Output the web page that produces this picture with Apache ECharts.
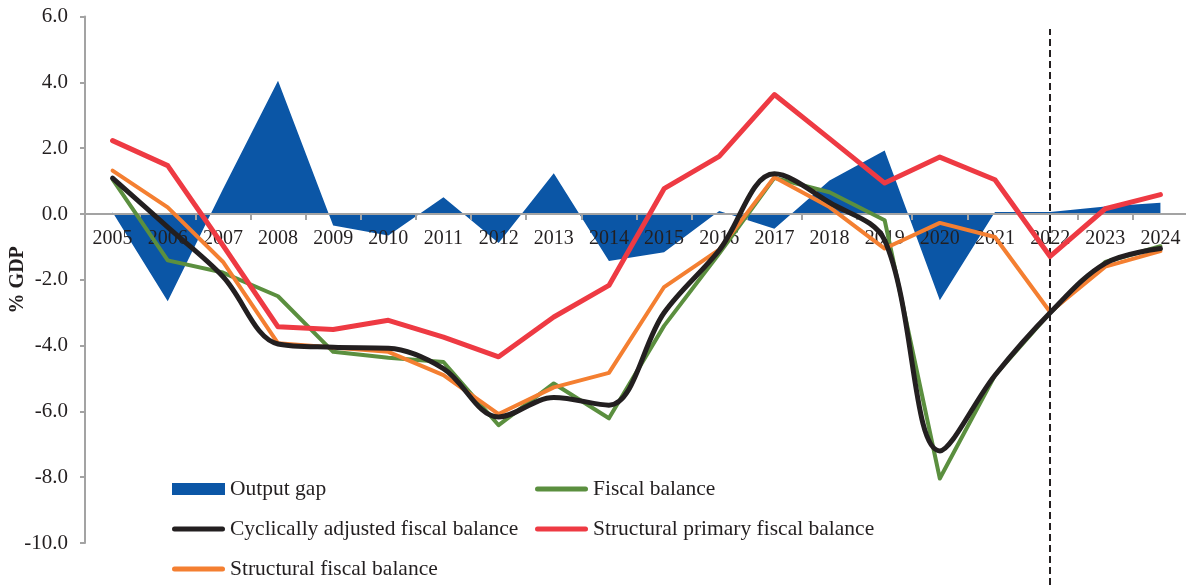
<!DOCTYPE html>
<html>
<head>
<meta charset="utf-8">
<script src="https://cdn.jsdelivr.net/npm/echarts@6/dist/echarts.min.js"></script>
<style>
  html, body { margin: 0; padding: 0; background: #ffffff; }
  #chart { width: 1186px; height: 585px; }
</style>
</head>
<body>
<div id="chart"></div>
<script>
// Years on the horizontal axis
const years = ['2005','2006','2007','2008','2009','2010','2011','2012','2013','2014',
               '2015','2016','2017','2018','2019','2020','2021','2022','2023','2024'];

// Series values, % of GDP
const outputGap = [0.05, -2.65, 0.75, 4.05, -0.35, -0.65, 0.51, -0.88, 1.24, -1.43,
                   -1.16, 0.09, -0.45, 1.02, 1.93, -2.62, 0.06, 0.06, 0.23, 0.34];
const fiscalBalance = [1.05, -1.41, -1.78, -2.5, -4.19, -4.37, -4.5, -6.42, -5.15, -6.21,
                       -3.4, -1.2, 1.1, 0.66, -0.19, -8.04, -4.9, -3.0, -1.46, -0.98];
const cyclicallyAdjusted = [1.09, -0.4, -1.9, -3.95, -4.05, -4.08, -4.7, -6.17, -5.58, -5.81,
                            -3.0, -1.1, 1.22, 0.35, -0.8, -7.2, -4.9, -3.0, -1.5, -1.05];
const structuralPrimary = [2.23, 1.47, -0.95, -3.43, -3.51, -3.23, -3.74, -4.34, -3.13, -2.17,
                           0.77, 1.75, 3.63, 2.29, 0.94, 1.73, 1.04, -1.29, 0.16, 0.59];
const structuralBalance = [1.32, 0.2, -1.45, -3.93, -4.06, -4.19, -4.9, -6.08, -5.27, -4.83,
                           -2.22, -1.08, 1.12, 0.21, -1.05, -0.27, -0.7, -2.98, -1.6, -1.13];

// Vertical axis ticks
const yMin = -10, yMax = 6, yStep = 2;
// First forecast year, marked by a dashed divider
const forecastYear = '2022';

const TEXT = '#231f20';
const AXIS = '#a3a3a3';
const FONT = '"Liberation Serif", "Times New Roman", serif';

// Plot area
const GRID_LEFT = 85, GRID_TOP = 16.6, GRID_WIDTH = 1103, GRID_BOTTOM = 42;
const CHART_H = 585;
const gridHeight = CHART_H - GRID_TOP - GRID_BOTTOM;
// Category axis sits on the zero line, with its labels just below it
const zeroOffset = -((0 - yMin) / (yMax - yMin)) * gridHeight;

// Rounded bar used as the legend swatch of the line series
const LINE_ICON = 'path://M0,2.5A2.5,2.5,0,0,1,2.5,0L50.5,0A2.5,2.5,0,0,1,53,2.5A2.5,2.5,0,0,1,50.5,5L2.5,5A2.5,2.5,0,0,1,0,2.5Z';

const chart = echarts.init(document.getElementById('chart'), null, { renderer: 'canvas' });

function lineSeries(name, data, color, width, z, smooth) {
  return {
    name: name,
    type: 'line',
    data: data,
    symbol: 'none',
    showSymbol: false,
    smooth: smooth || false,
    z: z,
    itemStyle: { color: color },
    lineStyle: { color: color, width: width, cap: 'round', join: 'round' }
  };
}

const legendCommon = {
  top: 478, height: 200, orient: 'vertical', padding: 0,
  itemWidth: 53, itemHeight: 12, itemGap: 18,
  itemStyle: { borderWidth: 0 },
  textStyle: { fontFamily: FONT, fontSize: 21.5, color: TEXT, lineHeight: 22 }
};

chart.setOption({
  animation: false,
  backgroundColor: '#ffffff',
  textStyle: { fontFamily: FONT, color: TEXT },
  grid: [
    { left: GRID_LEFT, top: GRID_TOP, width: GRID_WIDTH, bottom: GRID_BOTTOM,
      containLabel: false, outerBoundsMode: 'none' },
    // Taller frame that carries only the forecast divider
    { left: GRID_LEFT, top: 29, width: GRID_WIDTH, bottom: 0,
      containLabel: false, outerBoundsMode: 'none' }
  ],
  legend: [
    Object.assign({}, legendCommon, {
      left: 172,
      data: [
        { name: 'Output gap', icon: 'rect' },
        { name: 'Cyclically adjusted fiscal balance', icon: LINE_ICON },
        { name: 'Structural fiscal balance', icon: LINE_ICON }
      ]
    }),
    Object.assign({}, legendCommon, {
      left: 535,
      data: [
        { name: 'Fiscal balance', icon: LINE_ICON },
        { name: 'Structural primary fiscal balance', icon: LINE_ICON }
      ]
    })
  ],
  xAxis: [
    {
      type: 'category',
      gridIndex: 0,
      z: 1,
      data: years,
      boundaryGap: true,
      position: 'bottom',
      offset: zeroOffset,
      axisLine: { onZero: false, lineStyle: { color: AXIS, width: 2 } },
      axisTick: { show: true, length: 6, lineStyle: { color: AXIS, width: 2 } },
      axisLabel: { fontFamily: FONT, fontSize: 20, color: TEXT, margin: 15, interval: 0 }
    },
    {
      type: 'category',
      gridIndex: 1,
      data: years,
      boundaryGap: true,
      show: false
    }
  ],
  yAxis: [
    {
      type: 'value',
      gridIndex: 0,
      z: 1,
      min: yMin, max: yMax, interval: yStep,
      name: '% GDP',
      nameLocation: 'middle',
      nameGap: 57,
      nameMoveOverlap: false,
      nameTextStyle: { fontFamily: FONT, fontSize: 20, fontWeight: 'bold', color: TEXT },
      axisLine: { show: true, lineStyle: { color: AXIS, width: 2 } },
      axisTick: { show: true, length: 5, lineStyle: { color: AXIS, width: 2 } },
      axisLabel: {
        fontFamily: FONT, fontSize: 21, color: TEXT, margin: 17,
        formatter: function (v) { return v.toFixed(1); }
      },
      splitLine: { show: false }
    },
    {
      type: 'value',
      gridIndex: 1,
      min: 0, max: 1,
      show: false
    }
  ],
  series: [
    {
      name: 'Output gap',
      type: 'line',
      data: outputGap,
      symbol: 'none',
      showSymbol: false,
      z: 0,
      itemStyle: { color: '#0b56a6' },
      lineStyle: { width: 0, color: '#0b56a6' },
      areaStyle: { color: '#0b56a6', opacity: 1, origin: 0 }
    },
    lineSeries('Fiscal balance', fiscalBalance, '#5b8f3f', 4, 2),
    lineSeries('Structural fiscal balance', structuralBalance, '#f47f31', 4, 3),
    lineSeries('Cyclically adjusted fiscal balance', cyclicallyAdjusted, '#231f20', 5, 4, 0.35),
    lineSeries('Structural primary fiscal balance', structuralPrimary, '#ee3a43', 5, 5),
    {
      name: 'divider',
      type: 'line',
      xAxisIndex: 1,
      yAxisIndex: 1,
      data: [],
      symbol: 'none',
      z: 6,
      markLine: {
        silent: true,
        symbol: ['none', 'none'],
        label: { show: false },
        lineStyle: { color: '#231f20', width: 2, type: [7, 4] },
        data: [{ xAxis: forecastYear }]
      }
    }
  ]
});
</script>
</body>
</html>
